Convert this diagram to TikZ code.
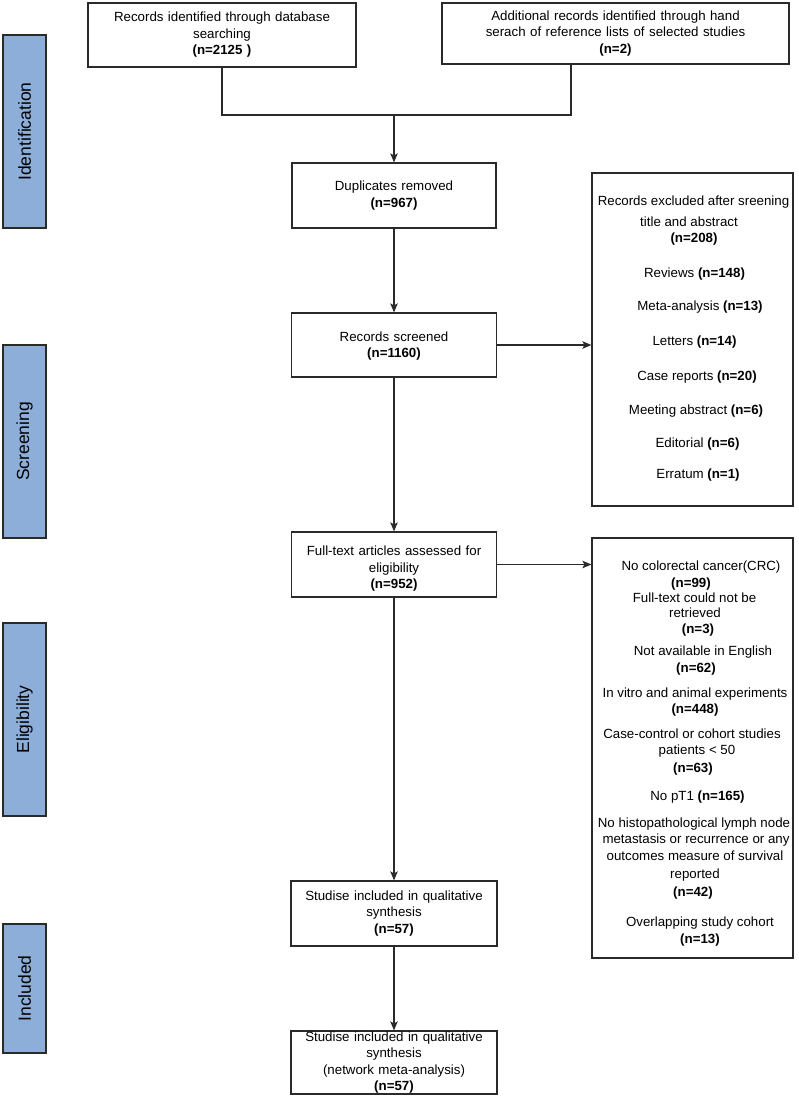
\documentclass[tikz,border=0pt]{standalone}
\usepackage{fontspec}
\setmainfont{Liberation Sans}
\usetikzlibrary{arrows.meta}
\definecolor{phase}{HTML}{8DAED9}
\definecolor{edge}{HTML}{2A2A2A}
\begin{document}
\begin{tikzpicture}[x=1pt,y=-1pt,
  every node/.style={font=\fontsize{13.3}{16.5}\selectfont},
  box/.style={draw=edge, line width=1.2pt, fill=white, align=center, inner sep=0pt},
  phasebox/.style={draw=edge, line width=1.3pt, fill=phase, rotate=90, inner sep=0pt,
    minimum height=43pt, font=\fontsize{17.5}{20}\selectfont},
  txt/.style={anchor=base, inner sep=0pt},
  conn/.style={draw=edge, line width=1.2pt},
  arr/.style={conn, -{Stealth[length=9pt,width=7.5pt,inset=2pt]}},
]
\useasboundingbox (0,0) rectangle (799,1097);

% phase labels
\node[phasebox, minimum width=193pt] (pid) at (24.5,131.5) {Identification};
\node[phasebox, minimum width=193pt] (psc) at (24.5,441.5) {Screening};
\node[phasebox, minimum width=193pt] (pel) at (24.5,719.5) {Eligibility};
\node[phasebox, minimum width=129pt] (pin) at (24.5,988.5) {Included};

% main boxes
\node[box, minimum width=268pt, minimum height=64pt, text width=266pt] (b1) at (222,35)
  {Records identified through database\\searching\\\textbf{(n=2125 )}};
\node[box, minimum width=347pt, minimum height=61pt, text width=345pt] (b2) at (615.5,33.5)
  {Additional records identified through hand\\serach of reference lists of selected studies\\\textbf{(n=2)}};
\node[box, minimum width=204pt, minimum height=65pt, text width=202pt] (dup) at (394,195.5)
  {Duplicates removed\\\textbf{(n=967)}};
\node[box, minimum width=205pt, minimum height=64pt, text width=203pt] (scr) at (394,345)
  {\rule{0pt}{12pt}Records screened\\\textbf{(n=1160)}};
\node[box, minimum width=205pt, minimum height=65pt, text width=203pt] (ft) at (394,564.5)
  {\rule{0pt}{18pt}Full-text articles assessed for\\eligibility\\\textbf{(n=952)}};
\node[box, minimum width=206pt, minimum height=65pt, text width=204pt] (st1) at (394,913.5)
  {Studise included in qualitative\\synthesis\\\textbf{(n=57)}};
\node[box, minimum width=206pt, minimum height=63pt, text width=204pt] (st2) at (394,1062.5)
  {Studise included in qualitative\\synthesis\\(network meta-analysis)\\\textbf{(n=57)}};

% exclusion boxes
\node[box, minimum width=201pt, minimum height=333pt] (ex1) at (692.5,339.5) {};
\node[box, minimum width=201pt, minimum height=420pt] (ex2) at (692.5,748) {};

\node[txt] (e1a) at (693.5,205) {Records excluded after sreening};
\node[txt] (e1b) at (689,226) {title and abstract};
\node[txt] (e1c) at (694,242) {\textbf{(n=208)}};
\node[txt] (e1d) at (694.5,277) {Reviews \textbf{(n=148)}};
\node[txt] (e1e) at (700,310) {Meta-analysis \textbf{(n=13)}};
\node[txt] (e1f) at (694.5,345) {Letters \textbf{(n=14)}};
\node[txt] (e1g) at (697,380) {Case reports \textbf{(n=20)}};
\node[txt] (e1h) at (696,414) {Meeting abstract \textbf{(n=6)}};
\node[txt] (e1i) at (697.5,447) {Editorial \textbf{(n=6)}};
\node[txt] (e1j) at (698,478) {Erratum \textbf{(n=1)}};

\node[txt] (e2a) at (701,570) {No colorectal cancer(CRC)};
\node[txt] (e2b) at (691,587) {\textbf{(n=99)}};
\node[txt] (e2c) at (694.5,602) {Full-text could not be};
\node[txt] (e2d) at (695,617) {retrieved};
\node[txt] (e2e) at (698,633) {\textbf{(n=3)}};
\node[txt] (e2f) at (703,655) {Not available in English};
\node[txt] (e2g) at (696,672) {\textbf{(n=62)}};
\node[txt] (e2h) at (695,697) {In vitro and animal experiments};
\node[txt] (e2i) at (695,713) {\textbf{(n=448)}};
\node[txt] (e2j) at (692,738) {Case-control or cohort studies};
\node[txt] (e2k) at (697,754) {patients < 50};
\node[txt] (e2l) at (693,772) {\textbf{(n=63)}};
\node[txt] (e2m) at (697.5,800) {No pT1 \textbf{(n=165)}};
\node[txt] (e2n) at (694,827) {No histopathological lymph node};
\node[txt] (e2o) at (696,843) {metastasis or recurrence or any};
\node[txt] (e2p) at (695,860) {outcomes measure of survival};
\node[txt] (e2q) at (695,878) {reported};
\node[txt] (e2r) at (693,896) {\textbf{(n=42)}};
\node[txt] (e2s) at (700,926) {Overlapping study cohort};
\node[txt] (e2t) at (700,943) {\textbf{(n=13)}};

% connectors
\coordinate (j1) at (394,115);
\coordinate (j2) at (571,115);
\draw[conn] (b1.south) |- (j2) -- (j2 |- b2.south);
\draw[arr] (j1) -- (dup.north);
\draw[arr] (dup.south) -- (scr.north);
\draw[arr] (scr.east) -- (ex1.west |- scr.east);
\draw[arr] (scr.south) -- (ft.north);
\draw[arr] (ft.east) -- (ex2.west |- ft.east);
\draw[arr] (ft.south) -- (st1.north);
\draw[arr] (st1.south) -- (st2.north);
\end{tikzpicture}
\end{document}
